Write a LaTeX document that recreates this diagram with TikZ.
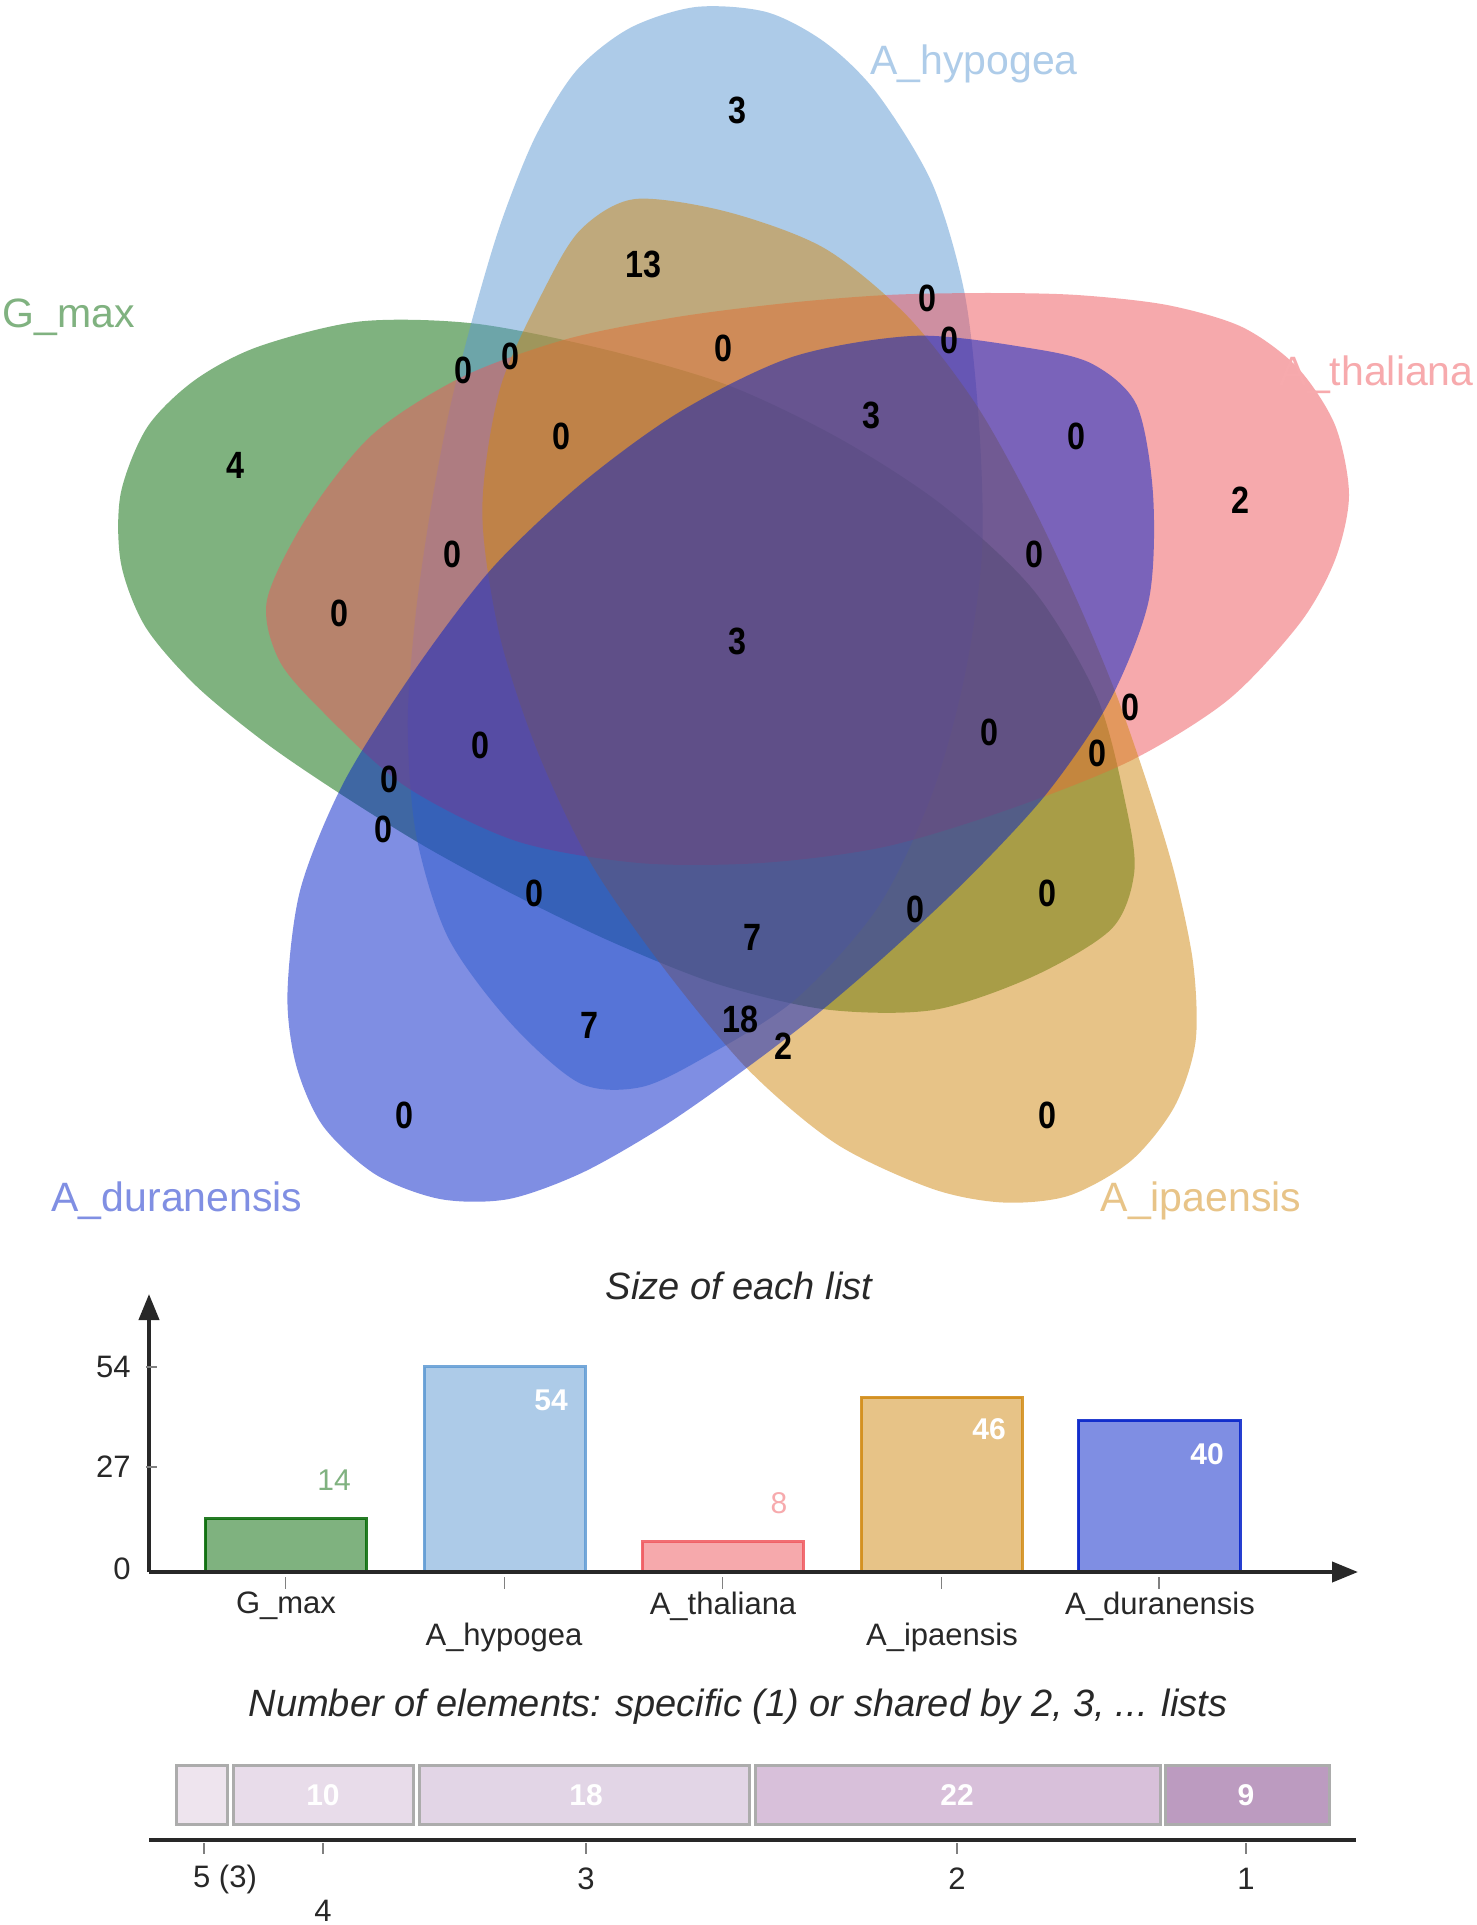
\documentclass[tikz,border=0pt]{standalone}
\usepackage{fontspec}
\setmainfont{Liberation Sans}
\usetikzlibrary{arrows.meta}
\definecolor{cG}{RGB}{0,102,0}
\definecolor{cH}{RGB}{93,153,211}
\definecolor{cT}{RGB}{239,85,91}
\definecolor{cI}{RGB}{209,137,17}
\definecolor{cD}{RGB}{0,30,200}
\definecolor{axisc}{RGB}{40,40,40}
\newcommand{\eggshape}[1]{%
  \fill[#1] plot[smooth cycle] coordinates {
  (612,-150) (598,-220) (560,-278) (505,-318) (430,-340) (340,-350)
  (250,-352) (150,-350) (50,-342) (-60,-328) (-170,-306) (-275,-268)
  (-365,-210) (-430,-128) (-470,-45) (-458,15) (-414,67) (-332,141)
  (-221,196) (-98,218) (24,218) (147,202) (270,165) (393,116) (491,55)
  (563,-22) (598,-85)};}
\tikzset{
  num/.style={font=\bfseries\fontsize{19}{19}\selectfont, xscale=0.85, inner sep=0pt},
  setlab/.style={font=\fontsize{20.5}{20.5}\selectfont, inner sep=0pt},
  axlab/.style={font=\fontsize{15.5}{15.5}\selectfont, text=axisc, inner sep=0pt},
  ttl/.style={font=\itshape\fontsize{19}{19}\selectfont, text=axisc, inner sep=0pt},
  valin/.style={font=\bfseries\fontsize{15}{15}\selectfont, text=white, inner sep=0pt},
  valout/.style={font=\fontsize{15}{15}\selectfont, inner sep=0pt},
  venn/.style={fill opacity=0.5},
  barbox/.style={fill opacity=0.5, draw opacity=0.85, line width=1.5pt},
  seg/.style={draw=gray!65, line width=1.5pt},
  axisline/.style={draw=axisc, line width=2pt},
  tick/.style={draw=gray, line width=0.8pt}
}
\begin{document}
\begin{tikzpicture}[x=0.5pt, y=-0.5pt]
\useasboundingbox (0,0) rectangle (1476,1925);
\fill[white] (0,0) rectangle (1476,1925);
% ---------------- Venn shapes ----------------
\begin{scope}[shift={(742,635)}, rotate=147]\eggshape{cG, venn}\end{scope}
\begin{scope}[shift={(748,642)}, rotate=74.5]\eggshape{cH, venn}\end{scope}
\begin{scope}[shift={(737,645)}, rotate=0]\eggshape{cT, venn}\end{scope}
\begin{scope}[shift={(737,660)}, rotate=288]\eggshape{cI, venn}\end{scope}
\begin{scope}[shift={(730,645)}, rotate=216]\eggshape{cD, venn}\end{scope}
% set labels
\node[setlab, text=cH!50!white] (lH) at (974,64) {A\_hypogea};
\node[setlab, text=cG!50!white, anchor=west] (lG) at (2,317) {G\_max};
\node[setlab, text=cT!50!white, anchor=east] (lT) at (1474,375) {A\_thaliana};
\node[setlab, text=cD!50!white] (lD) at (177,1201) {A\_duranensis};
\node[setlab, text=cI!50!white] (lI) at (1201,1201) {A\_ipaensis};
% region counts
\node[num] (n1) at (737,110) {3};
\node[num] (n2) at (643,264) {13};
\node[num] (n3) at (927,298) {0};
\node[num] (n4) at (949,340) {0};
\node[num] (n5) at (723,348) {0};
\node[num] (n6) at (463,370) {0};
\node[num] (n7) at (510,356) {0};
\node[num] (n8) at (871,415) {3};
\node[num] (n9) at (1076,436) {0};
\node[num] (n10) at (235,465) {4};
\node[num] (n11) at (561,436) {0};
\node[num] (n12) at (1240,500) {2};
\node[num] (n13) at (452,554) {0};
\node[num] (n14) at (1034,554) {0};
\node[num] (n15) at (339,613) {0};
\node[num] (n16) at (737,641) {3};
\node[num] (n17) at (1130,707) {0};
\node[num] (n18) at (989,732) {0};
\node[num] (n19) at (1097,753) {0};
\node[num] (n20) at (480,745) {0};
\node[num] (n21) at (389,779) {0};
\node[num] (n22) at (383,829) {0};
\node[num] (n23) at (534,893) {0};
\node[num] (n24) at (1047,893) {0};
\node[num] (n25) at (915,909) {0};
\node[num] (n26) at (752,937) {7};
\node[num] (n27) at (589,1025) {7};
\node[num] (n28) at (740,1019) {18};
\node[num] (n29) at (783,1046) {2};
\node[num] (n30) at (404,1115) {0};
\node[num] (n31) at (1047,1115) {0};
% ---------------- Size of each list ----------------
\node[ttl] (t1) at (739,1286) {Size of each list};
\coordinate (o1) at (149,1572);
\coordinate (ytop) at (149,1294);
\coordinate (xend) at (1358,1572);
\fill[cG, barbox, draw=cG] (205,1572) rectangle (366,1518.8);
\fill[cH, barbox, draw=cH] (424,1572) rectangle (585,1366.8);
\fill[cT, barbox, draw=cT] (642,1572) rectangle (803,1541.6);
\fill[cI, barbox, draw=cI] (861,1572) rectangle (1022,1397.2);
\fill[cD, barbox, draw=cD] (1078,1572) rectangle (1240,1420);
\draw[axisline, -{Triangle[length=13pt, width=10pt]}] (o1) -- (ytop);
\draw[axisline, -{Triangle[length=13pt, width=10pt]}] (o1) -- (xend);
\foreach \yy in {1367,1467} \draw[tick] (146,\yy) -- (157,\yy);
\foreach \xx in {285.5,504.5,722.5,941.5,1159} \draw[tick] (\xx,1577) -- (\xx,1589);
\node[axlab, anchor=east] (y54) at (131,1367) {54};
\node[axlab, anchor=east] (y27) at (131,1467) {27};
\node[axlab, anchor=east] (y0) at (131,1569) {0};
\node[valout, text=cG!50!white] (v1) at (334,1480) {14};
\node[valin] (v2) at (551,1400) {54};
\node[valout, text=cT!50!white] (v3) at (779,1503) {8};
\node[valin] (v4) at (989,1429) {46};
\node[valin] (v5) at (1207,1454) {40};
\node[axlab] (x1) at (286,1606) {G\_max};
\node[axlab] (x2) at (504,1637) {A\_hypogea};
\node[axlab] (x3) at (723,1606) {A\_thaliana};
\node[axlab] (x4) at (942,1637) {A\_ipaensis};
\node[axlab] (x5) at (1160,1606) {A\_duranensis};
% ---------------- Number of elements ----------------
\node[ttl] (t2) at (738,1707) {Number of elements: specific (1) or shared by 2, 3, ... lists};
\fill[seg, fill={rgb,255:red,238;green,228;blue,238}] (176,1765) rectangle (227,1824);
\fill[seg, fill={rgb,255:red,232;green,220;blue,234}] (233,1765) rectangle (413,1824);
\fill[seg, fill={rgb,255:red,226;green,213;blue,230}] (419,1765) rectangle (749,1824);
\fill[seg, fill={rgb,255:red,216;green,192;blue,218}] (755,1765) rectangle (1160,1824);
\fill[seg, fill={rgb,255:red,188;green,155;blue,192}] (1165,1765) rectangle (1329,1824);
\node[valin] (s4) at (323,1795) {10};
\node[valin] (s3) at (586,1795) {18};
\node[valin] (s2) at (957,1795) {22};
\node[valin] (s1) at (1246,1795) {9};
\coordinate (a2l) at (149,1840);
\coordinate (a2r) at (1356,1840);
\draw[axisline] (a2l) -- (a2r);
\foreach \xx in {204,323,586,957,1246} \draw[tick] (\xx,1843) -- (\xx,1854);
\node[axlab] (k5) at (225,1879) {5 (3)};
\node[axlab] (k4) at (323,1911) {4};
\node[axlab] (k3) at (586,1879) {3};
\node[axlab] (k2) at (957,1879) {2};
\node[axlab] (k1) at (1246,1879) {1};
\end{tikzpicture}
\end{document}
